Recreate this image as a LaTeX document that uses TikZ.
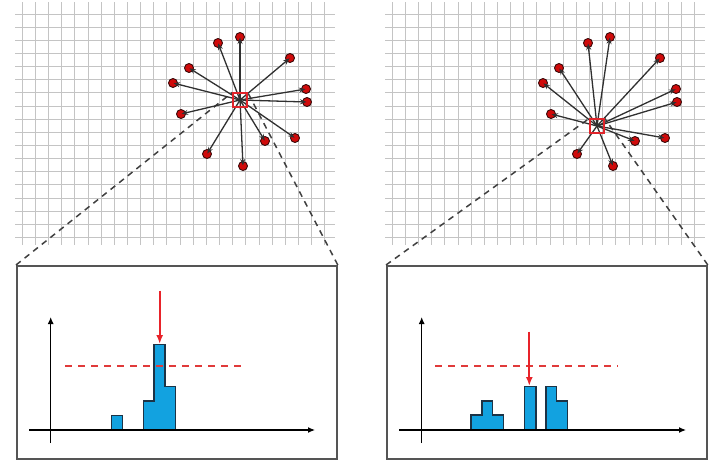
\documentclass[tikz,border=0pt]{standalone}
\usepackage{tikz}
\usetikzlibrary{arrows.meta}
\definecolor{gridgray}{HTML}{C4C4C4}
\definecolor{raygray}{HTML}{303030}
\definecolor{dotred}{HTML}{D00A0A}
\definecolor{dotedge}{HTML}{3A0A0A}
\definecolor{boxred}{HTML}{E0242A}
\definecolor{zoomgray}{HTML}{404040}
\definecolor{framegray}{HTML}{555555}
\definecolor{limred}{HTML}{E03A3A}
\definecolor{binblue}{HTML}{12A2E0}
\definecolor{binedge}{HTML}{1C3346}
\definecolor{peakred}{HTML}{E8232A}

\tikzset{
  gridline/.style={draw=gridgray, line width=1pt},
  ray/.style={-{Stealth[length=6.5pt,width=5pt]}, draw=raygray, line width=1.3pt, shorten >=0.5pt},
  hit/.style={circle, draw=dotedge, fill=dotred, line width=0.9pt, minimum size=9pt, inner sep=0pt},
  cellbox/.style={draw=boxred, line width=1.8pt, minimum size=13.5pt, inner sep=0pt},
  zoomline/.style={draw=zoomgray, dash pattern=on 6pt off 5pt, line width=1.5pt},
  panelbox/.style={draw=framegray, line width=1.8pt, minimum width=320pt, minimum height=193pt, inner sep=0pt, anchor=north west},
  axis/.style={-{Latex[length=7pt,width=6pt]}, line width=1.2pt},
  limit/.style={draw=limred, dash pattern=on 7pt off 6pt, line width=2.2pt},
  bin/.style={draw=binedge, fill=binblue, line width=1.4pt, line join=miter},
  peak/.style={-{Latex[length=9pt,width=7pt]}, draw=peakred, line width=2.2pt},
}

\begin{document}
\begin{tikzpicture}[x=1pt, y=-1pt]
\useasboundingbox (0,0) rectangle (712,461);

% left panel: centre cell in the middle
\begin{scope}
  \foreach \k in {0,...,23} \draw[gridline] (22.3+13.15*\k,2) -- (22.3+13.15*\k,245);
  \foreach \k in {0,...,17} \draw[gridline] (15,14+13.15*\k) -- (335,14+13.15*\k);
  \node[panelbox] (Lbox) at (16,265) {};
  \node[cellbox] (Lcell) at (240,100) {};
  \draw[zoomline] (Lbox.north west) -- (Lcell.north west);
  \draw[zoomline] (Lbox.north east) -- (Lcell.north east);
  \foreach \x/\y [count=\i] in {240/37, 218/43, 290/58, 189/68, 173/83, 306/89,
      307/102, 181/114, 265/141, 295/138, 207/154, 243/166} {
    \node[hit] (L\i) at (\x,\y) {};
    \draw[ray] (Lcell.center) -- (L\i.center);
  }
  \node[cellbox] at (Lcell.center) {};
  % histogram
  \coordinate (Lx0) at (29,430);   \coordinate (Lx1) at (315,430);
  \coordinate (Ly0) at (50.7,443); \coordinate (Ly1) at (50.7,317);
  \coordinate (Lt0) at (65,365.7); \coordinate (Lt1) at (247,365.7);
  \draw[bin] (111.7,430) |- (122.5,415.7) -- (122.5,430) -- cycle;
  \draw[bin] (143.3,430) |- (154,401) |- (165,344.3) |- (175.7,386.7) -- (175.7,430) -- cycle;
  \draw[axis] (Lx0) -- (Lx1);
  \draw[axis] (Ly0) -- (Ly1);
  \draw[limit] (Lt0) -- (Lt1);
  \coordinate (Lp0) at (159.7,290.7); \coordinate (Lp1) at (159.7,344);
  \draw[peak] (Lp0) -- (Lp1);
\end{scope}

% right panel: same hits, centre cell moved
\begin{scope}[xshift=370pt]
  \foreach \k in {0,...,23} \draw[gridline] (22.3+13.15*\k,2) -- (22.3+13.15*\k,245);
  \foreach \k in {0,...,17} \draw[gridline] (15,14+13.15*\k) -- (335,14+13.15*\k);
  \node[panelbox] (Rbox) at (16,265) {};
  \node[cellbox] (Rcell) at (227,126) {};
  \draw[zoomline] (Rbox.north west) -- (Rcell.north west);
  \draw[zoomline] (Rbox.north east) -- (Rcell.north east);
  \foreach \x/\y [count=\i] in {240/37, 218/43, 290/58, 189/68, 173/83, 306/89,
      307/102, 181/114, 265/141, 295/138, 207/154, 243/166} {
    \node[hit] (R\i) at (\x,\y) {};
    \draw[ray] (Rcell.center) -- (R\i.center);
  }
  \node[cellbox] at (Rcell.center) {};
  % histogram
  \coordinate (Rx0) at (29,430);   \coordinate (Rx1) at (316,430);
  \coordinate (Ry0) at (51.7,443); \coordinate (Ry1) at (51.7,317);
  \coordinate (Rt0) at (65,365.7); \coordinate (Rt1) at (247.7,365.7);
  \draw[bin] (101,430) |- (112,415) |- (122.7,401) |- (133.7,415) -- (133.7,430) -- cycle;
  \draw[bin] (154.3,430) |- (166,386.7) -- (166,430) -- cycle;
  \draw[bin] (176,430) |- (186.7,386.7) |- (197.7,401) -- (197.7,430) -- cycle;
  \draw[axis] (Rx0) -- (Rx1);
  \draw[axis] (Ry0) -- (Ry1);
  \draw[limit] (Rt0) -- (Rt1);
  \coordinate (Rp0) at (159.3,331.7); \coordinate (Rp1) at (159.3,386);
  \draw[peak] (Rp0) -- (Rp1);
\end{scope}
\end{tikzpicture}
\end{document}
